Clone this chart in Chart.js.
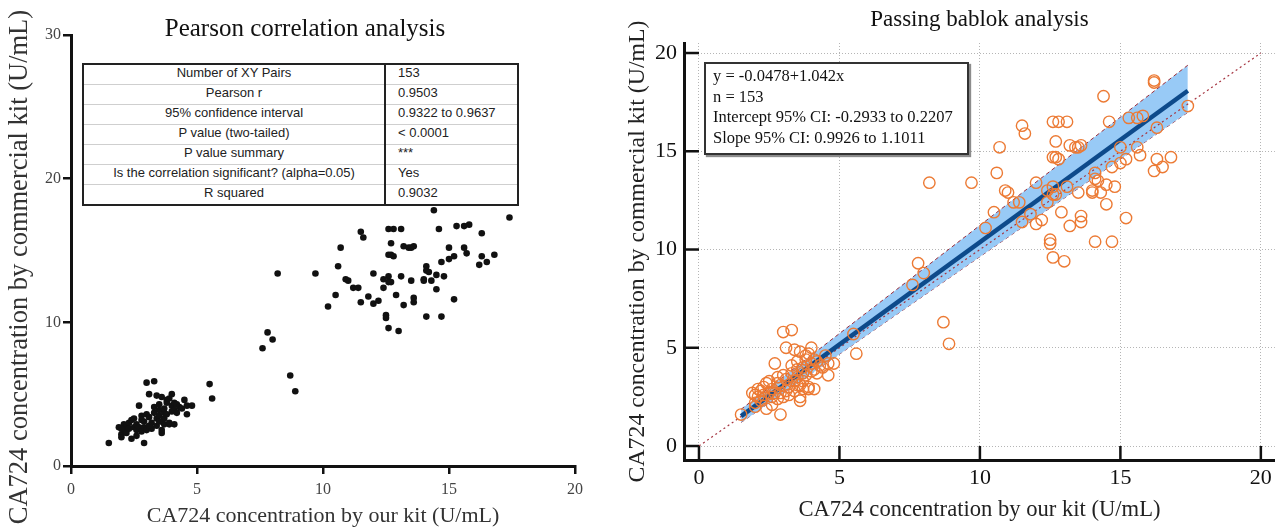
<!DOCTYPE html>
<html>
<head>
<meta charset="utf-8">
<title>CA724 correlation</title>
<script src="https://cdn.jsdelivr.net/npm/chart.js@4.4.1/dist/chart.umd.min.js"></script>
<style>
body { margin: 0; background: #fff; width: 1282px; height: 527px; position: relative; overflow: hidden; }
#left { position: absolute; left: 0; top: 0; }
#right { position: absolute; left: 615px; top: 0; }
#stats { position: absolute; left: 82px; top: 63px; width: 437px; border-collapse: collapse; border: 2.5px solid #222; background: #fff;
  font: 13px "Liberation Sans", Arial, sans-serif; color: #222; }
#stats td { height: 16px; padding: 0 0 3px 0; border-bottom: 1px solid #cfcfcf; line-height: 16px; }
#stats td.name { width: 300px; text-align: center; border-right: 2.5px solid #222; }
#stats td.val { padding-left: 12px; text-align: left; }
#fitbox { position: absolute; left: 704px; top: 62px; width: 265px; height: 93px; box-sizing: border-box; border: 2px solid #333;
  box-shadow: 2px 2px 1px rgba(0,0,0,0.45); background: #fff; padding: 2px 0 0 7px;
  font: 16.5px "Liberation Serif", "Times New Roman", serif; line-height: 20.5px; color: #111; white-space: nowrap; }
</style>
</head>
<body>
<canvas id="left" width="615" height="527"></canvas>
<canvas id="right" width="667" height="527"></canvas>
<table id="stats"></table>
<div id="fitbox"></div>
<script>
// CA724 values, our kit (x) vs commercial kit (y)
var ourKit = [
	1.5, 1.9, 2.0, 2.0, 2.1, 2.1, 2.2, 2.2, 2.3, 2.3, 2.4, 2.4, 2.5, 2.5, 2.6, 2.6, 2.7, 2.7, 2.8, 2.8,
	2.9, 2.9, 2.9, 3.0, 3.0, 3.0, 3.1, 3.1, 3.2, 3.2, 3.3, 3.3, 3.3, 3.4, 3.4, 3.4, 3.5, 3.5, 3.5, 3.6,
	3.6, 3.6, 3.6, 3.7, 3.7, 3.7, 3.7, 3.8, 3.8, 3.8, 3.9, 3.9, 3.9, 4.0, 4.0, 4.0, 4.1, 4.1, 4.2, 4.2,
	4.3, 4.4, 4.5, 4.6, 4.6, 4.8, 2.6, 3.1, 2.0, 3.5, 4.1, 2.8,
	5.5, 5.6, 7.6, 7.8, 8.0, 8.7, 8.9, 8.2, 9.7,
	10.2, 10.5, 10.6, 10.7, 10.9, 11.0, 11.2, 11.4, 11.5, 11.6, 11.5, 11.8, 12.0, 12.0, 12.2, 12.4, 12.5, 12.5, 12.6, 12.6,
	12.6, 12.7, 12.6, 12.7, 12.8, 12.7, 12.6, 12.8, 12.9, 13.0, 13.1, 13.1, 13.2, 13.2, 13.4, 13.5, 13.6, 13.5, 13.6, 13.6,
	14.0, 14.1, 14.1, 14.1, 14.0, 14.2, 14.3, 14.4, 14.5, 14.5, 14.6, 14.7, 14.7, 14.8, 15.0, 15.0, 15.2, 15.2, 15.3, 15.6,
	15.8, 15.6, 15.7, 16.2, 16.2, 16.3, 16.3, 16.5, 16.2, 16.8, 17.4, 12.4
];
var commercialKit = [
	1.6, 2.7, 2.2, 2.0, 2.5, 2.9, 2.3, 2.8, 3.0, 2.6, 1.9, 3.2, 2.7, 3.3, 2.5, 2.9, 4.2, 2.7, 3.5, 2.4,
	1.6, 3.1, 2.7, 3.6, 5.8, 2.5, 5.0, 3.4, 3.0, 2.6, 5.9, 3.7, 4.1, 3.3, 4.9, 2.8, 3.9, 3.5, 4.3, 2.3,
	3.1, 4.8, 2.5, 3.7, 4.0, 3.3, 2.9, 4.6, 4.4, 3.6, 2.9, 4.7, 3.0, 4.2, 3.8, 5.0, 3.9, 4.4, 3.7, 4.3,
	4.1, 4.0, 4.6, 3.6, 4.2, 4.2, 2.1, 2.8, 2.6, 3.1, 2.9, 3.2,
	5.7, 4.7, 8.2, 9.3, 8.8, 6.3, 5.2, 13.4, 13.4,
	11.1, 11.9, 13.9, 15.2, 13.0, 12.9, 12.4, 12.4, 16.3, 15.9, 11.4, 11.8, 11.3, 13.4, 11.5, 12.4, 10.5, 10.3, 9.6, 13.2,
	12.8, 12.8, 14.7, 14.7, 14.6, 15.5, 16.5, 16.5, 11.9, 9.4, 16.5, 13.2, 11.2, 15.3, 15.2, 15.2, 15.3, 12.9, 11.7, 11.4,
	13.0, 13.9, 13.6, 10.4, 12.9, 13.5, 12.9, 17.8, 13.3, 12.3, 16.5, 14.2, 10.4, 13.2, 15.2, 14.4, 14.6, 11.6, 16.7, 16.7,
	16.8, 15.2, 14.8, 18.5, 18.6, 16.2, 14.6, 14.2, 14.0, 14.7, 17.3, 13.0
];

var leftXTicks = [0, 5, 10, 15, 20];
var leftYTicks = [0, 10, 20, 30];
var rightTicks = [0, 5, 10, 15, 20];

var statNames = ["Number of XY Pairs", "Pearson r", "95% confidence interval", "P value (two-tailed)",
	"P value summary", "Is the correlation significant? (alpha=0.05)", "R squared"];
var statValues = ["153", "0.9503", "0.9322 to 0.9637", "< 0.0001", "***", "Yes", "0.9032"];

// Passing-Bablok fit and its 95% band, ends at x = 1.5 and x = 17.4
var fitX = [1.5, 17.4];
var fitY = [1.52, 18.08];
var ciUpper = [1.87, 19.38];
var ciLower = [1.20, 16.98];
var identityXY = [0, 20];
var fitText = ["y = -0.0478+1.042x", "n = 153", "Intercept 95% CI: -0.2933 to 0.2207", "Slope 95% CI: 0.9926 to 1.1011"];

var serif = "'Liberation Serif', 'Times New Roman', serif";
Chart.defaults.font.family = serif;
Chart.defaults.color = '#333';

var points = ourKit.map(function (x, i) { return { x: x, y: commercialKit[i] }; });
function pairs(xs, ys) { return xs.map(function (x, i) { return { x: x, y: ys[i] }; }); }
function useTicks(list) { return function (s) { s.ticks = list.map(function (v) { return { value: v }; }); }; }

// table and text box
var rows = '';
for (var i = 0; i < statNames.length; i++) {
	rows += '<tr><td class="name">' + statNames[i].replace('<', '&lt;') + '</td><td class="val">' + statValues[i].replace('<', '&lt;') + '</td></tr>';
}
document.getElementById('stats').innerHTML = rows;
document.getElementById('fitbox').innerHTML = fitText.map(function (t) { return '<div>' + t + '</div>'; }).join('');

// left: Pearson scatter
new Chart(document.getElementById('left'), {
	type: 'scatter',
	data: {
		datasets: [{
			data: points,
			backgroundColor: '#111',
			borderColor: '#111',
			borderWidth: 0,
			pointRadius: 3.3
		}]
	},
	options: {
		responsive: false,
		animation: false,
		devicePixelRatio: 1,
		// left padding only moves the centre of the title
		layout: { padding: { left: 35, right: 40, top: 0, bottom: 0 } },
		plugins: {
			legend: { display: false },
			tooltip: { enabled: false },
			title: {
				display: true,
				text: 'Pearson correlation analysis',
				color: '#111',
				font: { size: 25, weight: 'normal', lineHeight: 1 },
				padding: { top: 16.5, bottom: -6.5 }
			}
		},
		scales: {
			x: {
				type: 'linear', min: 0, max: 20,
				afterBuildTicks: useTicks(leftXTicks),
				afterFit: function (s) { s.height = 61; s.paddingLeft = 0; s.paddingRight = 0; },
				grid: { drawOnChartArea: false, tickLength: 8, color: '#111', lineWidth: 2.5 },
				border: { color: '#111', width: 3 },
				ticks: { color: '#444', font: { size: 16 }, padding: 6, maxRotation: 0 },
				title: { display: true, text: 'CA724 concentration by our kit (U/mL)', color: '#333', font: { size: 22, lineHeight: 1 }, padding: { top: 0, bottom: 0 } }
			},
			y: {
				type: 'linear', min: 0, max: 30,
				afterBuildTicks: useTicks(leftYTicks),
				afterFit: function (s) { s.width = 36; s.paddingTop = 0; s.paddingBottom = 0; },
				grid: { drawOnChartArea: false, tickLength: 8, color: '#111', lineWidth: 2.5 },
				border: { color: '#111', width: 3 },
				ticks: { color: '#444', font: { size: 16 }, padding: 2 },
				title: { display: true, text: 'CA724 concentration by commercial kit (U/mL)     ', color: '#333', font: { size: 26.5, lineHeight: 1 }, padding: { top: -28.25, bottom: 0 } }
			}
		}
	}
});

// tick marks pointing into the plot, ending at the zero lines
var innerTicks = {
	id: 'innerTicks',
	afterDraw: function (chart) {
		var ctx = chart.ctx, a = chart.chartArea, xs = chart.scales.x, ys = chart.scales.y;
		var x0 = xs.getPixelForValue(0), y0 = ys.getPixelForValue(0);
		ctx.save();
		ctx.strokeStyle = '#111';
		ctx.lineWidth = 2.5;
		ys.ticks.forEach(function (t) {
			var p = ys.getPixelForValue(t.value);
			ctx.beginPath(); ctx.moveTo(a.left, p); ctx.lineTo(x0, p); ctx.stroke();
		});
		xs.ticks.forEach(function (t) {
			var p = xs.getPixelForValue(t.value);
			ctx.beginPath(); ctx.moveTo(p, a.bottom); ctx.lineTo(p, y0); ctx.stroke();
		});
		ctx.restore();
	}
};

// right: Passing-Bablok
new Chart(document.getElementById('right'), {
	type: 'scatter',
	data: {
		datasets: [{
			data: points,
			borderColor: '#ec7a34',
			backgroundColor: 'rgba(255,255,255,0)',
			pointBorderWidth: 1.4,
			pointRadius: 5.7
		}, {
			data: pairs(fitX, fitY),
			showLine: true,
			borderColor: '#0d4a8b',
			borderWidth: 4.5,
			pointRadius: 0
		}, {
			data: pairs(identityXY, identityXY),
			showLine: true,
			borderColor: '#a5333f',
			borderWidth: 1.2,
			borderDash: [2, 3],
			pointRadius: 0
		}, {
			data: pairs(fitX, ciUpper),
			showLine: true,
			borderColor: '#9b2d3a',
			borderWidth: 1,
			borderDash: [4, 3],
			backgroundColor: 'rgb(152, 202, 246)',
			fill: '+1',
			pointRadius: 0
		}, {
			data: pairs(fitX, ciLower),
			showLine: true,
			borderColor: '#9b2d3a',
			borderWidth: 1,
			borderDash: [4, 3],
			pointRadius: 0
		}]
	},
	options: {
		responsive: false,
		animation: false,
		devicePixelRatio: 1,
		layout: { padding: { left: 0, right: 6, top: 0, bottom: 0 } },
		plugins: {
			legend: { display: false },
			tooltip: { enabled: false },
			title: {
				display: true,
				fullSize: false,
				text: 'Passing bablok analysis',
				color: '#111',
				font: { size: 23, weight: 'normal', lineHeight: 1 },
				padding: { top: 8.5, bottom: 11.5 }
			}
		},
		scales: {
			x: {
				type: 'linear', min: -0.533, max: 20.5,
				afterBuildTicks: useTicks(rightTicks),
				afterFit: function (s) { s.height = 67; s.paddingLeft = 0; s.paddingRight = 0; },
				grid: { drawTicks: false, color: '#b5b5b5', lineWidth: 1 },
				border: { color: '#111', width: 3, dash: [1, 2] },
				ticks: { color: '#111', font: { size: 22 }, padding: 5, maxRotation: 0 },
				title: { display: true, text: 'CA724 concentration by our kit (U/mL)', color: '#222', font: { size: 22.6, lineHeight: 1 }, padding: { top: 0, bottom: 5.7 } }
			},
			y: {
				type: 'linear', min: -0.712, max: 20.51,
				afterBuildTicks: useTicks(rightTicks),
				afterFit: function (s) { s.width = 69; s.paddingTop = 0; s.paddingBottom = 0; },
				grid: { drawTicks: false, color: '#b5b5b5', lineWidth: 1 },
				border: { color: '#111', width: 3, dash: [1, 2] },
				ticks: { color: '#111', font: { size: 22 }, padding: 7 },
				title: { display: true, text: 'CA724 concentration by commercial kit (U/mL)', color: '#222', font: { size: 23.8, lineHeight: 1 }, padding: { top: 11, bottom: 0 } }
			}
		}
	},
	plugins: [innerTicks]
});
</script>
</body>
</html>
